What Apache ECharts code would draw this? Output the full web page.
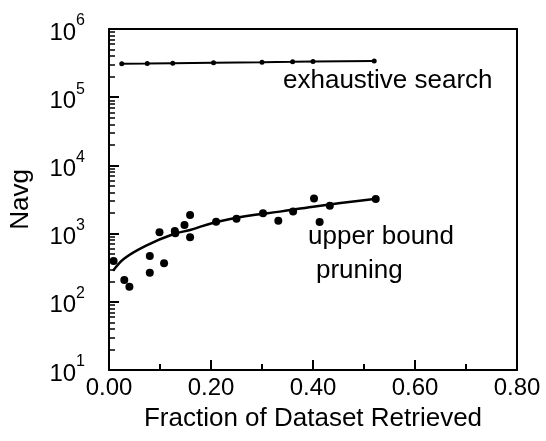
<!DOCTYPE html>
<html>
<head>
<meta charset="utf-8">
<script src="https://cdn.jsdelivr.net/npm/echarts@6/dist/echarts.min.js"></script>
<style>
  html, body { margin: 0; padding: 0; background: #fff; }
  #chart { width: 546px; height: 441px; }
</style>
</head>
<body>
<div id="chart"></div>
<script>
// exhaustive search
var exhaustX = [0.025, 0.075, 0.125, 0.205, 0.3, 0.36, 0.4, 0.52];
var exhaustY = [310000, 312000, 315000, 320000, 325000, 330000, 335000, 340000];

// upper bound pruning, measured points
var pruneX = [0.009, 0.03, 0.04, 0.08, 0.08, 0.099, 0.108, 0.129, 0.13, 0.148, 0.159, 0.159,
              0.21, 0.25, 0.302, 0.332, 0.361, 0.402, 0.413, 0.433, 0.523];
var pruneY = [396, 208, 166, 469, 267, 1045, 366, 1091, 1011, 1340, 1876, 883,
              1495, 1656, 1986, 1548, 2100, 3260, 1483, 2570, 3220];

// fitted curve
var fitX = [0.008, 0.03, 0.075, 0.127, 0.159, 0.205, 0.27, 0.335, 0.40, 0.52];
var fitY = [285, 433, 680, 987, 1130, 1445, 1812, 2100, 2485, 3220];

function zip(xs, ys) {
  return xs.map(function (x, i) { return [x, ys[i]]; });
}

var font = '"Liberation Sans", Arial, Helvetica, sans-serif';
var black = '#000';

var chart = echarts.init(document.getElementById('chart'));
var option = {
  animation: false,
  backgroundColor: '#fff',
  grid: { left: 108, right: 29, top: 29, bottom: 71 },
  xAxis: [
    {
      type: 'value',
      min: 0, max: 0.8, interval: 0.2,
      name: 'Fraction of Dataset Retrieved',
      nameLocation: 'middle',
      nameGap: 36,
      nameTextStyle: { fontSize: 26, color: black, fontFamily: font },
      axisLine: { onZero: false, lineStyle: { color: black, width: 2 } },
      axisTick: { show: true, inside: true, length: 10, lineStyle: { color: black, width: 2 } },
      minorTick: { show: true, splitNumber: 2, length: 6, lineStyle: { color: black, width: 2 } },
      splitLine: { show: false },
      minorSplitLine: { show: false },
      axisLabel: {
        margin: 6, fontSize: 24, color: black, fontFamily: font,
        formatter: function (v) { return v.toFixed(2); }
      }
    },
    {
      // top frame line
      type: 'value', position: 'top',
      min: 0, max: 0.8,
      axisLine: { show: true, onZero: false, lineStyle: { color: black, width: 2 } },
      axisTick: { show: false }, axisLabel: { show: false }, splitLine: { show: false }
    }
  ],
  yAxis: [
    {
      type: 'log',
      logBase: 10,
      min: 10, max: 1000000,
      name: 'Navg',
      nameLocation: 'middle',
      nameGap: 75,
      nameTextStyle: { fontSize: 26, color: black, fontFamily: font },
      axisLine: { show: true, onZero: false, lineStyle: { color: black, width: 2 } },
      axisTick: { show: true, inside: true, length: 10, lineStyle: { color: black, width: 2 } },
      minorTick: { show: true, splitNumber: 9, length: 6, lineStyle: { color: black, width: 1.5 } },
      splitLine: { show: false },
      minorSplitLine: { show: false },
      axisLabel: {
        margin: 24,
        formatter: function (v) {
          return '{b|10}{s|' + Math.round(Math.log10(v)) + '}';
        },
        rich: {
          b: { fontSize: 24, color: black, fontFamily: font, lineHeight: 32, verticalAlign: 'bottom' },
          s: { fontSize: 16, color: black, fontFamily: font, lineHeight: 32, verticalAlign: 'top' }
        }
      }
    },
    {
      // right frame line
      type: 'log', position: 'right',
      min: 10, max: 1000000,
      axisLine: { show: true, onZero: false, lineStyle: { color: black, width: 2 } },
      axisTick: { show: false }, axisLabel: { show: false }, splitLine: { show: false }
    }
  ],
  series: [
    {
      name: 'exhaustive search',
      type: 'line',
      data: zip(exhaustX, exhaustY),
      symbol: 'circle',
      symbolSize: 5,
      itemStyle: { color: black },
      lineStyle: { color: black, width: 2 }
    },
    {
      name: 'upper bound pruning',
      type: 'scatter',
      data: zip(pruneX, pruneY),
      symbol: 'circle',
      symbolSize: 8,
      itemStyle: { color: black, opacity: 1 }
    },
    {
      name: 'fit',
      type: 'line',
      data: zip(fitX, fitY),
      smooth: 0.4,
      showSymbol: false,
      lineStyle: { color: black, width: 2.5 }
    }
  ],
  graphic: [
    { type: 'text', left: 283, top: 68, style: { text: 'exhaustive search', font: '26px ' + font, fill: black } },
    { type: 'text', left: 308, top: 224, style: { text: 'upper bound', font: '26px ' + font, fill: black } },
    { type: 'text', left: 316, top: 258, style: { text: 'pruning', font: '26px ' + font, fill: black } }
  ]
};
chart.setOption(option);
</script>
</body>
</html>
